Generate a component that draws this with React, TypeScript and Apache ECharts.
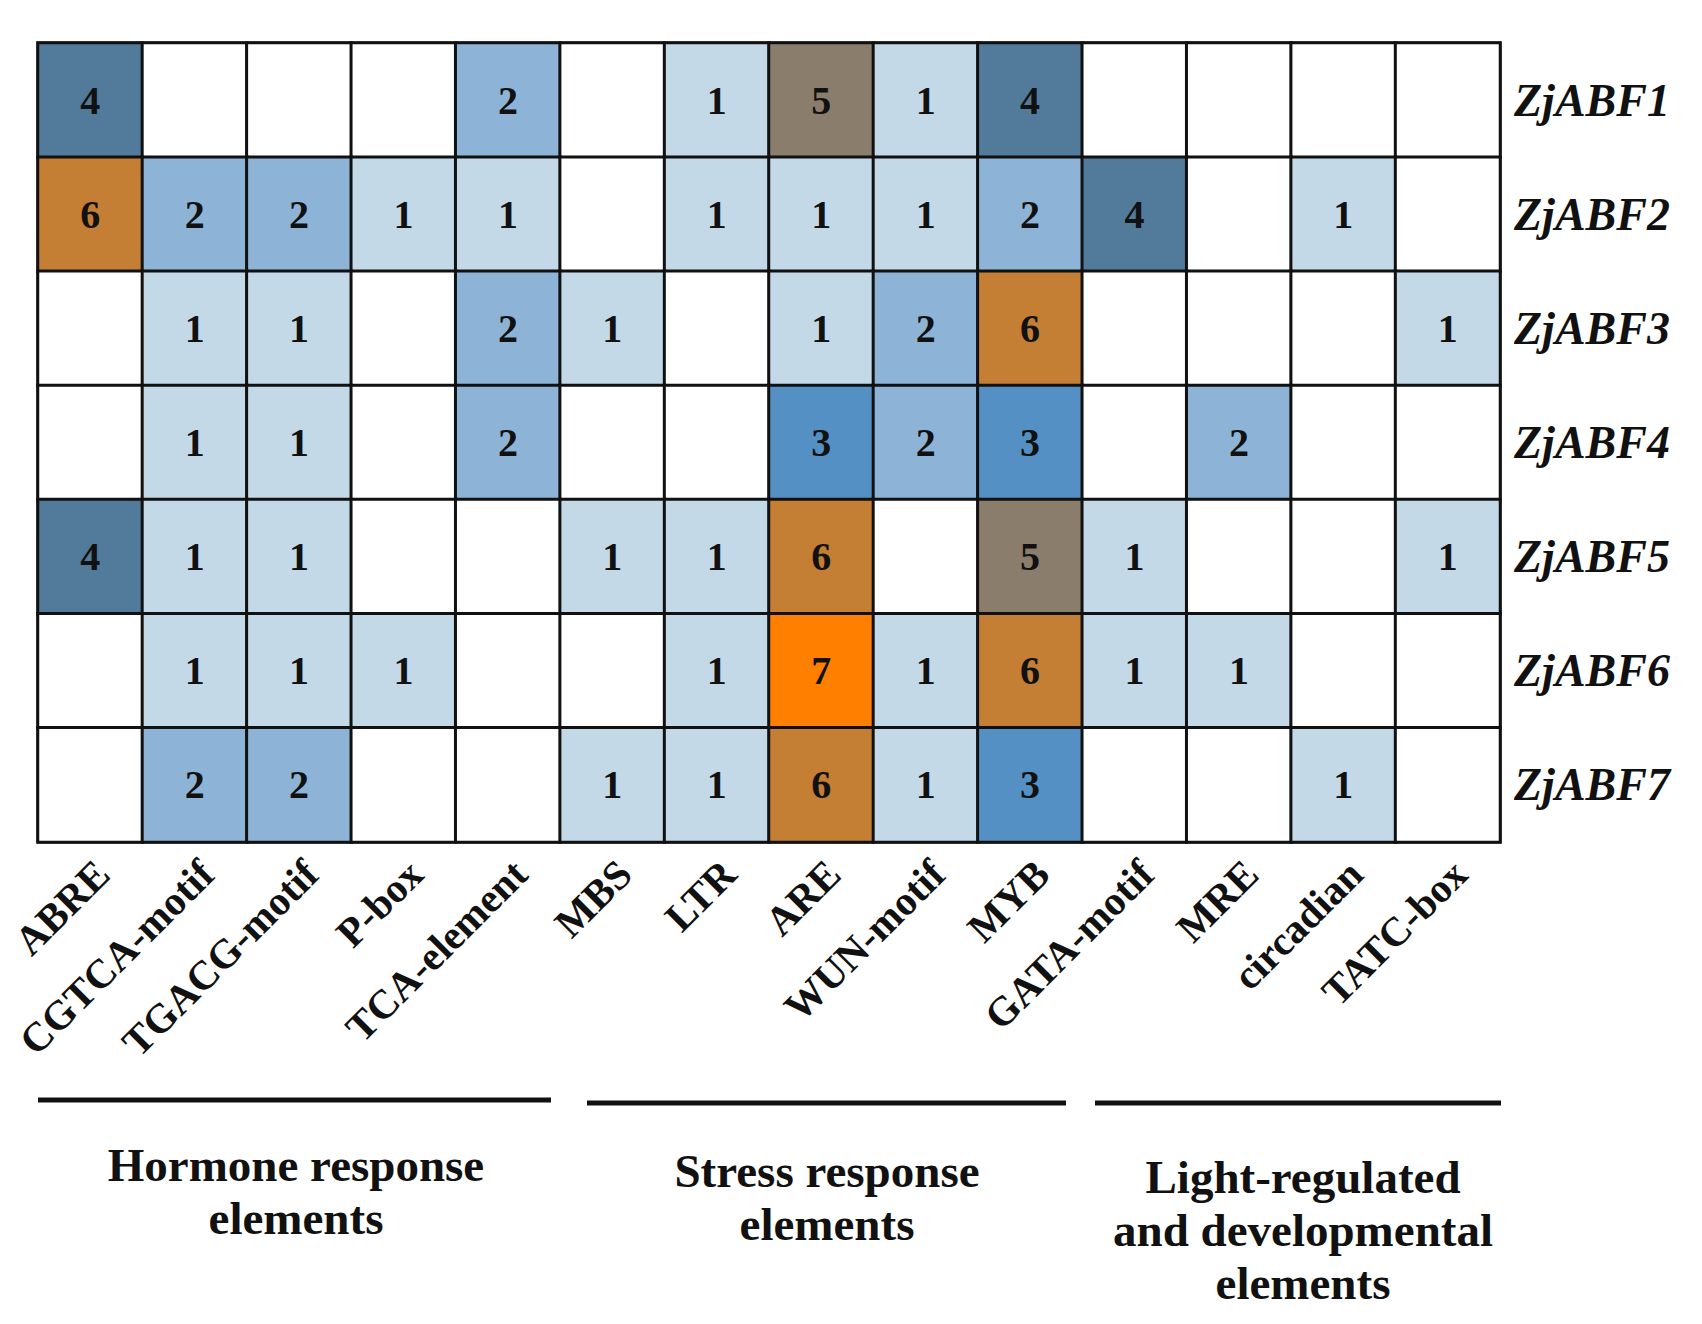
import React, { useEffect, useRef } from "react";
import * as echarts from "echarts";

const elements = [
  "ABRE", "CGTCA-motif", "TGACG-motif", "P-box", "TCA-element",
  "MBS", "LTR", "ARE", "WUN-motif", "MYB",
  "GATA-motif", "MRE", "circadian", "TATC-box",
];
const genes = ["ZjABF1", "ZjABF2", "ZjABF3", "ZjABF4", "ZjABF5", "ZjABF6", "ZjABF7"];

const zjABF1 = [4, 0, 0, 0, 2, 0, 1, 5, 1, 4, 0, 0, 0, 0];
const zjABF2 = [6, 2, 2, 1, 1, 0, 1, 1, 1, 2, 4, 0, 1, 0];
const zjABF3 = [0, 1, 1, 0, 2, 1, 0, 1, 2, 6, 0, 0, 0, 1];
const zjABF4 = [0, 1, 1, 0, 2, 0, 0, 3, 2, 3, 0, 2, 0, 0];
const zjABF5 = [4, 1, 1, 0, 0, 1, 1, 6, 0, 5, 1, 0, 0, 1];
const zjABF6 = [0, 1, 1, 1, 0, 0, 1, 7, 1, 6, 1, 1, 0, 0];
const zjABF7 = [0, 2, 2, 0, 0, 1, 1, 6, 1, 3, 0, 0, 1, 0];
const rows = [zjABF1, zjABF2, zjABF3, zjABF4, zjABF5, zjABF6, zjABF7];

const countColors = ["#ffffff", "#c4d9e8", "#8db4d7", "#5590c4", "#517a9b", "#8b7d6b", "#c47f35", "#ff8000"];

const groups = [
  { lines: ["Hormone response", "elements"], x1: 38, x2: 551, ly: 1100, cx: 296, ty: 1165 },
  { lines: ["Stress response", "elements"], x1: 587, x2: 1066, ly: 1103, cx: 827, ty: 1171 },
  { lines: ["Light-regulated", "and developmental", "elements"], x1: 1095, x2: 1501, ly: 1103, cx: 1303, ty: 1177 },
];

const SERIF = "'Liberation Serif', 'Times New Roman', serif";

export default function App() {
  const ref = useRef<HTMLDivElement>(null);
  useEffect(() => {
    if (!ref.current) return;
    const chart = echarts.init(ref.current, null, { renderer: "svg" });
    const data: number[][] = [];
    rows.forEach((r, yi) => r.forEach((v, xi) => data.push([xi, yi, v])));

    const graphic: any[] = [];
    groups.forEach((g) => {
      graphic.push({
        type: "line",
        shape: { x1: g.x1, y1: g.ly, x2: g.x2, y2: g.ly },
        style: { stroke: "#111", lineWidth: 5 },
      });
      g.lines.forEach((t, i) => {
        graphic.push({
          type: "text",
          x: g.cx,
          y: g.ty + i * 53,
          style: {
            text: t,
            fill: "#111",
            font: `bold 47px ${SERIF}`,
            textAlign: "center",
            textVerticalAlign: "middle",
          },
        });
      });
    });

    chart.setOption({
      animation: false,
      backgroundColor: "#ffffff",
      grid: {
        left: 38, top: 43, width: 1462, height: 799,
        outerBoundsMode: "none",
        containLabel: false,
        show: true, borderColor: "#222", borderWidth: 3, backgroundColor: "transparent",
      },
      xAxis: {
        type: "category",
        data: elements,
        position: "bottom",
        axisLine: { show: false },
        axisTick: { show: false },
        splitLine: { show: false },
        axisLabel: {
          rotate: 45,
          interval: 0,
          margin: 13,
          verticalAlign: "top",
          lineHeight: 34,
          color: "#111",
          fontSize: 41,
          fontWeight: "bold",
          fontFamily: SERIF,
        },
      },
      yAxis: {
        type: "category",
        data: genes,
        inverse: true,
        position: "right",
        axisLine: { show: false },
        axisTick: { show: false },
        splitLine: { show: false },
        axisLabel: {
          margin: 14,
          color: "#111",
          fontSize: 46,
          fontWeight: "bold",
          fontStyle: "italic",
          fontFamily: SERIF,
        },
      },
      visualMap: {
        type: "piecewise",
        show: false,
        dimension: 2,
        pieces: countColors.map((c, i) => ({ value: i, color: c })),
      },
      series: [
        {
          type: "heatmap",
          data,
          itemStyle: { borderColor: "#111", borderWidth: 3 },
          emphasis: { disabled: true },
          label: {
            show: true,
            color: "#111",
            fontSize: 40,
            fontWeight: "bold",
            fontFamily: SERIF,
            formatter: (p: any) => (p.value[2] ? String(p.value[2]) : ""),
          },
        },
      ],
      graphic,
    });
    return () => chart.dispose();
  }, []);
  return (
    <div
      ref={ref}
      style={{ position: "absolute", left: 0, top: 0, width: 1702, height: 1324, background: "#fff" }}
    />
  );
}
